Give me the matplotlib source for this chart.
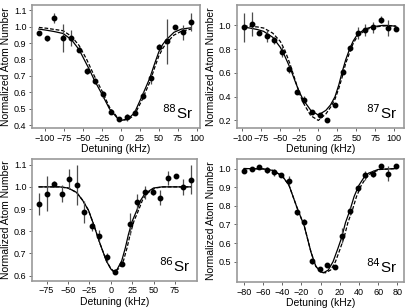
import matplotlib
matplotlib.use('Agg')
import matplotlib.pyplot as plt
import numpy as np

plt.rcParams['font.family'] = ['Liberation Sans', 'DejaVu Sans']

# ---- 88Sr ----
x88 = [-107.8, -97.6, -87.6, -75.7, -65.6, -55, -44, -33.9, -23.7, -13.2, -1.8, 7.9, 18.9, 29, 40,
       51, 60.7, 71.6, 81.8, 92.7]
y88 = [0.958, 0.928, 1.05, 0.93, 0.93, 0.86, 0.73, 0.67, 0.587, 0.48, 0.435, 0.447, 0.475, 0.58,
       0.685, 0.875, 0.91, 1.0, 0.965, 1.03]
e88 = [0.005, 0.015, 0.03, 0.085, 0.05, 0.015, 0.02, 0.02, 0.02, 0.015, 0.008, 0.02, 0.015, 0.02,
       0.035, 0.02, 0.135, 0.01, 0.045, 0.055]
fx88 = [-108, -98, -88, -76, -65, -55, -45, -41, -35, -25, -15, -5, 2, 10, 18, 28, 38, 45, 50, 55,
        60, 70, 80, 93]
fs88 = [0.985, 0.978, 0.97, 0.958, 0.92, 0.86, 0.77, 0.735, 0.675, 0.59, 0.5, 0.445, 0.43, 0.44,
        0.475, 0.577, 0.684, 0.78, 0.845, 0.89, 0.92, 0.965, 0.985, 0.993]
fd88 = [0.995, 0.99, 0.983, 0.975, 0.94, 0.885, 0.8, 0.76, 0.7, 0.61, 0.51, 0.45, 0.43, 0.435,
        0.462, 0.553, 0.66, 0.755, 0.82, 0.865, 0.9, 0.948, 0.972, 0.985]

# ---- 87Sr ----
x87 = [-97.8, -87.7, -78, -67.9, -57.9, -47.4, -38.2, -27.6, -18.4, -7.9, 2.2, 11.8, 22, 32.1,
       41.7, 51.8, 61.4, 71.6, 82.1, 92.1, 102.2]
y87 = [0.983, 1.011, 0.935, 0.913, 0.874, 0.78, 0.632, 0.438, 0.374, 0.27, 0.242, 0.2, 0.332, 0.607,
       0.809, 0.935, 0.963, 0.983, 1.048, 0.978, 0.972]
e87 = [0.12, 0.1, 0.01, 0.05, 0.03, 0.05, 0.03, 0.015, 0.03, 0.01, 0.02, 0.015, 0.015, 0.015,
       0.02, 0.05, 0.05, 0.05, 0.03, 0.07, 0.02]
fx87 = [-98, -90, -80, -72, -60, -50, -44, -37, -30, -25, -20, -10, 0, 10, 16, 22, 27, 31.6, 36,
        41.7, 46, 51.3, 61.4, 72, 85, 92, 102]
fs87 = [0.985, 0.978, 0.965, 0.95, 0.9, 0.815, 0.74, 0.64, 0.52, 0.44, 0.375, 0.285, 0.245, 0.285,
        0.33, 0.4, 0.5, 0.613, 0.71, 0.81, 0.87, 0.922, 0.97, 0.99, 1.0, 1.0, 0.993]
fd87 = [0.995, 0.992, 0.987, 0.978, 0.935, 0.865, 0.79, 0.67, 0.53, 0.43, 0.35, 0.24, 0.2, 0.255,
        0.31, 0.38, 0.47, 0.57, 0.68, 0.78, 0.85, 0.905, 0.96, 0.985, 0.995, 0.997, 0.995]

# ---- 86Sr ----
x86 = [-83.4, -74.8, -66.3, -57.3, -48.8, -39.8, -30.9, -22.2, -13.3, -4.7, 5, 13.6, 22.6, 31.1,
       40.1, 49.1, 57.7, 66.7, 76, 84.9, 93.9]
y86 = [0.924, 0.97, 1.015, 0.97, 1.035, 1.01, 0.888, 0.823, 0.78, 0.683, 0.618, 0.652, 0.833, 0.93,
       0.975, 0.975, 0.952, 1.04, 1.047, 1.0, 1.032]
e86 = [0.05, 0.08, 0.012, 0.04, 0.045, 0.09, 0.05, 0.02, 0.025, 0.02, 0.01, 0.01, 0.05, 0.04,
       0.03, 0.01, 0.035, 0.03, 0.007, 0.035, 0.065]
fx86 = [-84, -60, -50, -40, -33, -26, -20, -12.5, -5, 0, 3, 7, 12.8, 17, 20.6, 25, 30.4, 35, 40,
        50, 60, 94]
fs86 = [1.0, 1.0, 0.995, 0.975, 0.94, 0.894, 0.83, 0.743, 0.665, 0.63, 0.618, 0.625, 0.667, 0.725,
        0.785, 0.845, 0.894, 0.94, 0.97, 0.995, 1.0, 1.0]
fdx86 = [-84, -60, -50, -40, -33, -26, -20, -12.5, -5, 0, 4, 9, 14.8, 19, 22.6, 27, 32.4, 37, 42,
         52, 62, 94]
fd86 = [1.0, 1.0, 0.995, 0.975, 0.94, 0.894, 0.83, 0.743, 0.665, 0.632, 0.618, 0.63, 0.667, 0.725,
        0.785, 0.845, 0.894, 0.94, 0.97, 0.995, 1.0, 1.0]

# ---- 84Sr ----
x84 = [-80, -72, -64.5, -56.5, -49, -41, -33, -25, -17, -9.5, -0.7, 7, 15, 22.6, 30.7, 38.7,
       46.3, 54.4, 62.7, 70.7, 78.7]
y84 = [0.988, 0.996, 1.009, 0.993, 0.979, 0.964, 0.934, 0.764, 0.714, 0.505, 0.461, 0.484, 0.473,
       0.64, 0.773, 0.893, 0.964, 0.973, 1.011, 0.973, 1.011]
e84 = [0.008, 0.01, 0.005, 0.015, 0.02, 0.008, 0.025, 0.015, 0.015, 0.015, 0.005, 0.005, 0.008,
       0.04, 0.02, 0.008, 0.025, 0.02, 0.005, 0.04, 0.008]
fx84 = [-80, -60, -50, -40, -33, -25, -17, -10, -5, 0, 3, 8, 13, 18, 22, 26, 30.7, 35, 40, 45, 50,
        60, 79]
fs84 = [1.0, 0.998, 0.99, 0.96, 0.91, 0.795, 0.69, 0.55, 0.475, 0.445, 0.44, 0.455, 0.5, 0.57,
        0.63, 0.71, 0.777, 0.85, 0.91, 0.95, 0.975, 0.995, 1.0]
fdx84 = [-80, -60, -50, -40, -33, -25, -17, -10, -5, 0, 5, 10.5, 15.5, 20.5, 24.5, 28.5, 33.2,
         37.5, 42.5, 47.5, 52.5, 62, 79]
fd84 = [1.0, 0.998, 0.99, 0.96, 0.91, 0.795, 0.69, 0.55, 0.475, 0.445, 0.44, 0.455, 0.5, 0.57,
        0.63, 0.71, 0.777, 0.85, 0.91, 0.95, 0.975, 0.995, 1.0]

panels = [
    ('88', x88, y88, e88, fx88, fs88, fx88, fd88, [0.078, 0.584, 0.409, 0.399], (-117, 104.6),
     (0.382, 1.13), [-100, -75, -50, -25, 0, 25, 50, 75, 100], np.arange(0.4, 1.11, 0.1)),
    ('87', x87, y87, e87, fx87, fs87, fx87, fd87, [0.576, 0.584, 0.407, 0.399], (-107.4, 112.8),
     (0.135, 1.17), [-100, -75, -50, -25, 0, 25, 50, 75, 100], np.arange(0.2, 1.01, 0.2)),
    ('86', x86, y86, e86, fx86, fs86, fdx86, fd86, [0.078, 0.088, 0.401, 0.396], (-92, 100.6),
     (0.576, 1.126), [-75, -50, -25, 0, 25, 50, 75], np.arange(0.6, 1.11, 0.1)),
    ('84', x84, y84, e84, fx84, fs84, fdx84, fd84, [0.576, 0.084, 0.407, 0.399], (-87.6, 87.1),
     (0.39, 1.05), [-80, -60, -40, -20, 0, 20, 40, 60, 80], np.arange(0.5, 1.01, 0.1)),
]

fig = plt.figure(figsize=(4.11, 3.08), dpi=100)

for iso, xs, ys, es, fxs, fss, fxd, fds, pos, xl, yl, xt, yt in panels:
    ax = fig.add_axes(pos)
    ax.plot(fxs, fss, color='black', lw=0.9)
    ax.plot(fxd, fds, color='black', lw=0.9, ls=(0, (3, 1.5)))
    ax.errorbar(xs, ys, yerr=es, fmt='o', color='black', ms=3.2, ecolor='0.3',
                elinewidth=0.9, capsize=0)
    ax.set_xlim(xl)
    ax.set_ylim(yl)
    ax.set_xticks(xt)
    ax.set_yticks(yt)
    ax.set_yticklabels(['%.1f' % v for v in yt])
    ax.set_xticklabels(['\u2212%d' % -v if v < 0 else '%d' % v for v in xt])
    ax.tick_params(labelsize=6.5, length=2.5, width=0.6, pad=1.5, color='0.3')
    for sp in ax.spines.values():
        sp.set_color('0.6')
        sp.set_linewidth(1.2)
    ax.set_xlabel('Detuning (kHz)', fontsize=7.5, labelpad=1)
    ax.set_ylabel('Normalized Atom Number', fontsize=7.5, labelpad=2)
    ax.text(0.96, 0.05, r'$^{%s}$Sr' % iso, transform=ax.transAxes, ha='right', va='bottom',
            fontsize=11)

fig.savefig('out.png', dpi=100)
